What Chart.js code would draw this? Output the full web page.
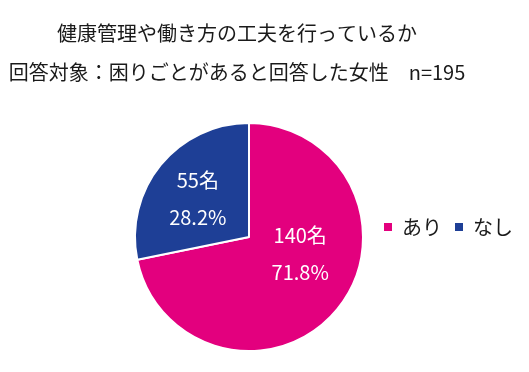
<!DOCTYPE html>
<html>
<head>
<meta charset="utf-8">
<script src="https://cdn.jsdelivr.net/npm/chart.js@4"></script>
<style>
  body { margin: 0; background: #fff; }
  #wrap { width: 529px; height: 372px; }
</style>
</head>
<body>
<div id="wrap"><canvas id="chart"></canvas></div>
<script>
const titleLines = ['健康管理や働き方の工夫を行っているか', '回答対象：困りごとがあると回答した女性　n=195'];
const categories = ['あり', 'なし'];
const counts = [140, 55];
const colors = ['#E3007E', '#1E3F96'];
// hand-placed nudge of each slice label (like the original)
const labelShift = [[0, -25], [0, 3]];

const FONT = '"Noto Sans CJK JP", "Noto Sans", sans-serif';

const total = counts.reduce((a, b) => a + b, 0);

// title lines drawn at the top, centred a little left of the canvas middle
const titlePlugin = {
  id: 'titleLines',
  afterDraw(chart) {
    const ctx = chart.ctx;
    ctx.save();
    ctx.fillStyle = '#1a1a1a';
    ctx.font = '20px ' + FONT;
    ctx.textAlign = 'center';
    ctx.textBaseline = 'middle';
    ctx.fillText(titleLines[0], 237, 33);
    ctx.fillText(titleLines[1], 237, 72);
    ctx.restore();
  }
};

// count + percent inside each slice
const sliceLabels = {
  id: 'sliceLabels',
  afterDatasetsDraw(chart) {
    const ctx = chart.ctx;
    const meta = chart.getDatasetMeta(0);
    ctx.save();
    ctx.fillStyle = '#fff';
    ctx.font = '20px ' + FONT;
    ctx.textAlign = 'center';
    ctx.textBaseline = 'middle';
    meta.data.forEach(function(arc, i) {
      const p = arc.getProps(['x', 'y', 'startAngle', 'endAngle', 'outerRadius'], true);
      const mid = (p.startAngle + p.endAngle) / 2;
      const d = p.outerRadius * 0.58;
      const x = p.x + Math.cos(mid) * d + labelShift[i][0];
      const y = p.y + Math.sin(mid) * d + labelShift[i][1];
      const pct = (counts[i] / total * 100).toFixed(1) + '%';
      ctx.fillText(counts[i] + '名', x, y - 18);
      ctx.fillText(pct, x, y + 19);
    });
    ctx.restore();
  }
};

// one-row legend to the right of the pie
const rowLegend = {
  id: 'rowLegend',
  afterDraw(chart) {
    const ctx = chart.ctx;
    ctx.save();
    ctx.font = '20px ' + FONT;
    ctx.textBaseline = 'middle';
    let x = 384;
    const y = 227;
    categories.forEach(function(name, i) {
      ctx.fillStyle = colors[i];
      ctx.fillRect(x, y - 4, 8, 8);
      x += 18;
      ctx.fillStyle = '#1a1a1a';
      ctx.fillText(name, x, y);
      x += ctx.measureText(name).width + 13;
    });
    ctx.restore();
  }
};

new Chart('chart', {
  type: 'pie',
  data: {
    labels: categories,
    datasets: [{
      data: counts,
      backgroundColor: colors,
      borderColor: '#fff',
      borderWidth: 2
    }]
  },
  options: {
    responsive: true,
    maintainAspectRatio: false,
    animation: false,
    layout: { padding: { top: 122, bottom: 20, left: 0, right: 31 } },
    plugins: {
      legend: { display: false },
      title: { display: false },
      tooltip: { enabled: false }
    }
  },
  plugins: [titlePlugin, sliceLabels, rowLegend]
});
</script>
</body>
</html>
